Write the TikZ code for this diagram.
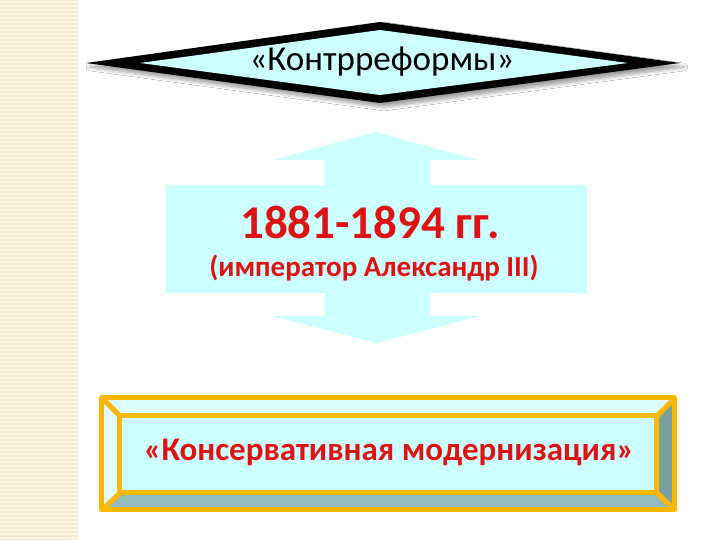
\documentclass[tikz,border=0pt]{standalone}
\usepackage{fontspec}
\setmainfont{Carlito}
\usetikzlibrary{shadows.blur}

\definecolor{paleblue}{RGB}{204,255,255}
\definecolor{strip}{RGB}{244,234,204}
\definecolor{gold}{RGB}{255,184,0}
\definecolor{darkred}{RGB}{222,18,18}
\definecolor{bevelgray}{RGB}{122,160,160}

\begin{document}
\begin{tikzpicture}[x=0.5pt,y=-0.5pt,
  title/.style={font=\fontsize{17.5}{20}\selectfont,text=black},
  years/.style={font=\bfseries\fontsize{23.5}{27}\selectfont,text=darkred},
  ruler/.style={font=\bfseries\fontsize{14.5}{17}\selectfont,text=darkred},
  motto/.style={font=\bfseries\fontsize{16.5}{19}\selectfont,text=darkred},
  frame/.style={draw=gold,line width=2.5pt,line join=round}]
  \useasboundingbox[fill=white] (0,0) rectangle (720,540);

  % striped strip on the left
  \fill[strip] (0,0) rectangle (78,540);
  \foreach \y in {2,6,...,538}
    \draw[white!60!strip,line width=0.6pt] (0,\y) -- (78,\y);

  % diamond with the title
  \coordinate (dl) at (86,63);
  \coordinate (dt) at (380,22);
  \coordinate (dr) at (680,63);
  \coordinate (db) at (380,103);
  \fill[black,blur shadow={shadow xshift=2pt,shadow yshift=-2pt,shadow blur steps=6}]
    (dl) -- (dt) -- (dr) -- (db) -- cycle;
  \fill[paleblue] (140,63) -- (380,30) -- (628,63) -- (380,95) -- cycle;
  \node[title] (reforms) at (382,62) {«Контрреформы»};

  % double arrow with the years
  \fill[paleblue] (376,132) -- (478,160) -- (430,160) -- (430,185) -- (587,185)
    -- (587,293) -- (430,293) -- (430,316) -- (480,316) -- (377,343)
    -- (272,316) -- (325,316) -- (325,293) -- (166,293) -- (166,185)
    -- (325,185) -- (325,160) -- (273,160) -- cycle;
  \node[years] (years) at (370,222) {1881-1894 гг.};
  \node[ruler] (tsar) at (374,268) {(император Александр III)};

  % bevelled box
  \fill[paleblue!70!white] (102,398) -- (675,398) -- (657,416) -- (120,416) -- cycle;
  \fill[bevelgray] (675,398) -- (675,510) -- (657,493) -- (657,416) -- cycle;
  \fill[bevelgray!70!paleblue] (102,510) -- (675,510) -- (657,493) -- (120,493) -- cycle;
  \fill[paleblue!60!white] (102,398) -- (120,416) -- (120,493) -- (102,510) -- cycle;
  \fill[paleblue] (120,416) rectangle (657,493);
  \draw[frame] (102,398) rectangle (675,510);
  \draw[frame] (120,416) rectangle (657,493);
  \draw[frame] (102,398) -- (120,416) (675,398) -- (657,416)
    (675,510) -- (657,493) (102,510) -- (120,493);
  \node[motto] (modern) at (389,452) {«Консервативная модернизация»};
\end{tikzpicture}
\end{document}
